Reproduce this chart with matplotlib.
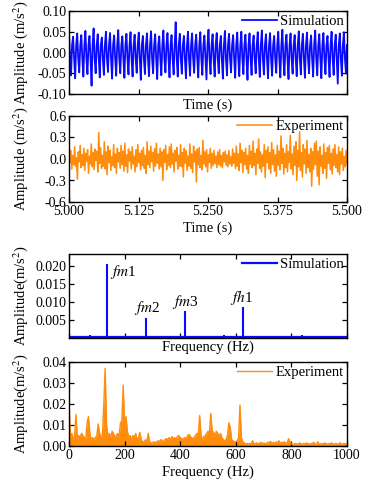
import numpy as np
import matplotlib
matplotlib.use("Agg")
import matplotlib.pyplot as plt

plt.rcParams['font.family'] = ['Liberation Serif', 'DejaVu Serif']
plt.rcParams['mathtext.fontset'] = 'stix'
plt.rcParams['axes.unicode_minus'] = False
plt.rcParams['font.size'] = 10

BLUE = '#0a0aff'
ORANGE = '#ff8c0a'

# ---------------- data ----------------
t_start, t_end = 5.0, 5.5

# simulated time signal: per meshing cycle peak max / peak min
sim_max = [0.050, 0.038, 0.046, 0.042, 0.052, 0.040, 0.058, 0.044, 0.036, 0.050,
           0.047, 0.041, 0.054, 0.039, 0.045, 0.049, 0.043, 0.048, 0.040, 0.046,
           0.051, 0.044, 0.039, 0.053, 0.047, 0.042, 0.073, 0.045, 0.040, 0.050,
           0.046, 0.043, 0.049, 0.041, 0.055, 0.044, 0.047, 0.040, 0.052, 0.045,
           0.042, 0.048, 0.050, 0.043, 0.046, 0.041, 0.049, 0.053, 0.044, 0.047,
           0.040, 0.050, 0.055, 0.043, 0.046, 0.042, 0.051, 0.045, 0.048, 0.041,
           0.053, 0.044, 0.047, 0.040, 0.050, 0.043, 0.046, 0.049]
sim_min = [-0.055, -0.062, -0.048, -0.058, -0.052, -0.080, -0.050, -0.060, -0.054, -0.047,
           -0.063, -0.056, -0.050, -0.061, -0.053, -0.058, -0.049, -0.066, -0.052, -0.057,
           -0.050, -0.064, -0.055, -0.048, -0.060, -0.053, -0.058, -0.051, -0.062, -0.056,
           -0.049, -0.060, -0.054, -0.065, -0.052, -0.058, -0.050, -0.063, -0.055, -0.048,
           -0.061, -0.057, -0.052, -0.066, -0.054, -0.050, -0.059, -0.053, -0.062, -0.056,
           -0.049, -0.060, -0.055, -0.064, -0.051, -0.057, -0.053, -0.061, -0.050, -0.058,
           -0.055, -0.062, -0.052, -0.059, -0.054, -0.075, -0.056, -0.051]
# in-cycle secondary values (between the peaks)
sim_inner = [-0.015, 0.018]

# experimental time signal
exp_vals = [
    0.22, -0.05, 0.12, -0.14, 0.05, -0.08, 0.17, -0.1, 0.02, -0.28, 0.1, -0.04, 0.19, -0.12, 0.06, -0.09, 0.15, -0.16, 0.08, -0.03,
    0.13, -0.2, 0.04, -0.07, 0.21, -0.11, 0.09, -0.15, 0.14, -0.02, 0.11, -0.18, 0.37, -0.06, 0.16, -0.13, 0.05, -0.1, 0.24, -0.14,
    0.1, -0.22, 0.18, -0.05, 0.12, -0.16, 0.03, -0.09, 0.2, -0.12, 0.07, -0.2, 0.15, -0.04, 0.09, -0.13, 0.19, -0.08, 0.11, -0.17,
    0.22, -0.1, 0.06, -0.19, 0.14, -0.03, 0.1, -0.14, 0.17, -0.07, 0.04, -0.18, 0.13, -0.11, 0.2, -0.05, 0.08, -0.15, 0.12, -0.09,
    0.16, -0.13, 0.05, -0.2, 0.24, -0.08, 0.11, -0.12, 0.18, -0.04, 0.09, -0.17, 0.14, -0.1, 0.22, -0.06, 0.07, -0.14, 0.15, -0.11,
    0.1, -0.3, 0.13, -0.05, 0.19, -0.15, 0.06, -0.09, 0.17, -0.12, 0.21, -0.07, 0.08, -0.18, 0.12, -0.03, 0.16, -0.14, 0.05, -0.1,
    0.2, -0.11, 0.09, -0.25, 0.15, -0.06, 0.12, -0.16, 0.04, -0.1, 0.21, -0.13, 0.07, -0.19, 0.18, -0.04, 0.1, -0.32, 0.14, -0.08,
    0.16, -0.12, 0.05, -0.15, 0.26, -0.07, 0.1, -0.11, 0.13, -0.18, 0.06, -0.05, 0.15, -0.13, 0.08, -0.09, 0.12, -0.06, 0.04, -0.12,
    0.1, -0.08, 0.13, -0.1, 0.05, -0.12, 0.09, -0.04, 0.11, -0.09, 0.06, -0.11, 0.12, -0.07, 0.03, -0.1, 0.14, -0.06, 0.08, -0.13,
    0.18, -0.1, 0.07, -0.16, 0.22, -0.05, 0.12, -0.19, 0.09, -0.08, 0.15, -0.14, 0.05, -0.2, 0.19, -0.07, 0.11, -0.12, 0.25, -0.09,
    0.08, -0.22, 0.14, -0.06, 0.28, -0.13, 0.1, -0.18, 0.06, -0.1, 0.2, -0.26, 0.12, -0.05, 0.17, -0.14, 0.09, -0.2, 0.23, -0.08,
    0.13, -0.17, 0.06, -0.24, 0.19, -0.09, 0.11, -0.15, 0.32, -0.06, 0.15, -0.21, 0.08, -0.12, 0.2, -0.18, 0.1, -0.05, 0.33, -0.14,
    0.07, -0.22, 0.18, -0.09, 0.24, -0.3, 0.12, -0.11, 0.38, -0.16, 0.09, -0.25, 0.2, -0.07, 0.14, -0.2, 0.26, -0.12, 0.06, -0.18,
    0.15, -0.38, 0.1, -0.14, 0.22, -0.08, 0.25, -0.24, 0.11, -0.36, 0.17, -0.1, 0.05, -0.2, 0.21, -0.13, 0.09, -0.27, 0.16, -0.06,
    0.19, -0.15, 0.08, -0.21, 0.14, -0.09, 0.2, -0.12, 0.06, -0.18, 0.17, -0.22, 0.1, -0.07, 0.15, -0.16, 0.04, -0.11, 0.12, -0.08,
]

# simulated spectrum: discrete lines
sim_f = [20, 45, 75, 105, 138, 165, 199, 222, 249, 277, 310, 345, 380, 416, 450, 487,
         520, 558, 590, 627, 651, 680, 700, 735, 760, 800, 839, 870, 905, 940, 970]
sim_a = [0.0004, 0.0004, 0.0008, 0.0004, 0.0204, 0.0004, 0.0006, 0.0005, 0.0005, 0.0054,
         0.0004, 0.0004, 0.0004, 0.0075, 0.0004, 0.0006, 0.0004, 0.0008, 0.0004, 0.0086,
         0.0006, 0.0004, 0.0006, 0.0004, 0.0005, 0.0004, 0.0008, 0.0004, 0.0004, 0.0004, 0.0004]
sim_base_f = [0, 1000]
sim_base_a = [0.00025, 0.00025]
peak_labels = [r'$fm$1', r'$fm$2', r'$fm$3', r'$fh$1']
peak_label_f = [147, 234, 370, 579]
peak_label_a = [0.0182, 0.0083, 0.0099, 0.0113]

# experimental spectrum, 5 Hz bins from 0 to 1000 Hz
exp_f_step = 5
exp_spec = [
    0.0205, 0.004, 0.006, 0.003, 0.005, 0.015, 0.003, 0.005, 0.004, 0.006,
    0.005, 0.004, 0.003, 0.011, 0.014, 0.006, 0.003, 0.004, 0.003, 0.004,
    0.005, 0.0105, 0.006, 0.004, 0.005, 0.019, 0.037, 0.01, 0.005, 0.006,
    0.004, 0.007, 0.006, 0.004, 0.005, 0.006, 0.004, 0.011, 0.012, 0.029,
    0.009, 0.014, 0.007, 0.004, 0.005, 0.003, 0.005, 0.004, 0.006, 0.003,
    0.004, 0.0065, 0.003, 0.002, 0.002, 0.003, 0.002, 0.006, 0.002, 0.0015,
    0.0015, 0.002, 0.0015, 0.002, 0.0025, 0.002, 0.003, 0.0025, 0.002, 0.003,
    0.0035, 0.003, 0.004, 0.003, 0.0045, 0.0035, 0.004, 0.003, 0.0045, 0.005,
    0.004, 0.0035, 0.003, 0.004, 0.0035, 0.0045, 0.0055, 0.005, 0.004, 0.0035,
    0.004, 0.005, 0.006, 0.005, 0.0145, 0.005, 0.003, 0.0045, 0.005, 0.006,
    0.007, 0.006, 0.0155, 0.007, 0.0065, 0.005, 0.007, 0.006, 0.0045, 0.006,
    0.004, 0.003, 0.0025, 0.003, 0.005, 0.011, 0.009, 0.003, 0.0025, 0.002,
    0.002, 0.0025, 0.004, 0.0195, 0.004, 0.002, 0.0015, 0.001, 0.0012, 0.001,
    0.0012, 0.001, 0.0025, 0.0012, 0.001, 0.0015, 0.001, 0.0012, 0.0018, 0.001,
    0.0015, 0.0012, 0.001, 0.0018, 0.0015, 0.0022, 0.0012, 0.0018, 0.001, 0.002,
    0.0015, 0.0025, 0.0012, 0.0018, 0.0015, 0.002, 0.0012, 0.0015, 0.0035, 0.002,
    0.001, 0.0008, 0.001, 0.0012, 0.0008, 0.001, 0.0015, 0.0008, 0.001, 0.0012,
    0.0008, 0.0015, 0.001, 0.0008, 0.0012, 0.001, 0.0018, 0.0008, 0.001, 0.002,
    0.0008, 0.001, 0.0012, 0.0008, 0.0015, 0.001, 0.0008, 0.0012, 0.001, 0.0015,
    0.0008, 0.001, 0.0012, 0.0008, 0.001, 0.0015, 0.0008, 0.001, 0.0012, 0.0008,
    0.001,
]

time_ticks = [5.000, 5.125, 5.250, 5.375, 5.500]
freq_ticks = [0, 200, 400, 600, 800, 1000]

# ---------------- figure ----------------
W, H = 369, 486
fig = plt.figure(figsize=(W / 100, H / 100), dpi=100)

def axes_px(left, top, right, bottom):
    return fig.add_axes([left / W, 1 - bottom / H, (right - left) / W, (bottom - top) / H])

ax1 = axes_px(69, 11, 347, 94)
ax2 = axes_px(69, 116, 347, 202)
ax3 = axes_px(69, 254, 347, 338)
ax4 = axes_px(69, 362, 347, 446)

def style(ax):
    for s in ax.spines.values():
        s.set_linewidth(1.0)
        s.set_color('black')
    ax.tick_params(direction='in', top=True, right=True, length=3.5, width=0.9,
                   labelsize=10, pad=2)

# panel 1: simulated time signal
sim_series = []
for mx, mn in zip(sim_max, sim_min):
    sim_series += [mx, sim_inner[0], mn, sim_inner[1]]
t_sim = np.linspace(t_start, t_end, len(sim_series))
ax1.plot(t_sim, sim_series, color=BLUE, lw=1.3, label='Simulation')
ax1.set_xlim(t_start, t_end)
ax1.set_ylim(-0.1, 0.1)
ax1.set_xticks(time_ticks)
ax1.set_yticks([-0.10, -0.05, 0.00, 0.05, 0.10])
ax1.set_yticklabels(['-0.10', '-0.05', '0.00', '0.05', '0.10'])
ax1.tick_params(labelbottom=False)
ax1.set_xlabel('Time (s)', fontsize=10.5, labelpad=3)
ax1.set_ylabel('Amplitude (m/s$^2$)', fontsize=10.5)

# panel 2: experimental time signal
t_exp = np.linspace(t_start, t_end, len(exp_vals))
ax2.plot(t_exp, exp_vals, color=ORANGE, lw=1.1, label='Experiment')
ax2.set_xlim(t_start, t_end)
ax2.set_ylim(-0.6, 0.6)
ax2.set_xticks(time_ticks)
ax2.set_xticklabels(['5.000', '5.125', '5.250', '5.375', '5.500'])
ax2.set_yticks([-0.6, -0.3, 0.0, 0.3, 0.6])
ax2.set_yticklabels(['-0.6', '-0.3', '0.0', '0.3', '0.6'])
ax2.set_xlabel('Time (s)', fontsize=10.5, labelpad=3)
ax2.set_ylabel('Amplitude (m/s$^2$)', fontsize=10.5)

# panel 3: simulated spectrum
ax3.plot(sim_base_f, sim_base_a, color=BLUE, lw=1.6)
ax3.vlines(sim_f, 0, sim_a, color=BLUE, lw=1.5)
ax3.plot([], [], color=BLUE, lw=1.6, label='Simulation')
for lab, f, a in zip(peak_labels, peak_label_f, peak_label_a):
    ax3.text(f, a, lab, fontsize=11, ha='left', va='center')
ax3.set_xlim(0, 1000)
ax3.set_ylim(0, 0.0232)
ax3.set_xticks(freq_ticks)
ax3.set_yticks([0.005, 0.010, 0.015, 0.020])
ax3.set_yticklabels(['0.005', '0.010', '0.015', '0.020'])
ax3.tick_params(labelbottom=False)
ax3.set_xlabel('Frequency (Hz)', fontsize=10.5, labelpad=2)
ax3.set_ylabel('Amplitude(m/s$^2$)', fontsize=10.5)

# panel 4: experimental spectrum
f_exp = np.arange(len(exp_spec)) * exp_f_step
ax4.fill_between(f_exp, 0, exp_spec, color=ORANGE, lw=0)
ax4.plot(f_exp, exp_spec, color=ORANGE, lw=1.0, label='Experiment')
ax4.set_xlim(0, 1000)
ax4.set_ylim(0, 0.04)
ax4.set_xticks(freq_ticks)
ax4.set_yticks([0.00, 0.01, 0.02, 0.03, 0.04])
ax4.set_yticklabels(['0.00', '0.01', '0.02', '0.03', '0.04'])
ax4.set_xlabel('Frequency (Hz)', fontsize=10.5, labelpad=3)
ax4.set_ylabel('Amplitude(m/s$^2$)', fontsize=10.5)

for ax in (ax1, ax2, ax3, ax4):
    style(ax)
    ax.yaxis.set_label_coords(-0.14, 0.5)
    ax.legend(loc='upper right', frameon=False, fontsize=10.5, handlelength=2.4,
              handletextpad=0.2, borderaxespad=0.05, borderpad=0.2)
    ax.set_zorder(1)

fig.savefig('out.png', dpi=100)
